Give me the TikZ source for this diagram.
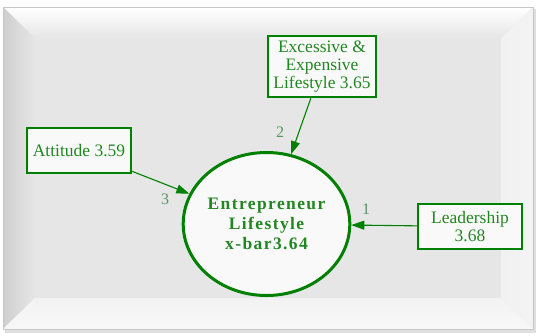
\documentclass[tikz,border=0pt]{standalone}
\usepackage{fontspec}
\setmainfont{Liberation Serif}
\usetikzlibrary{arrows.meta,shapes.geometric}
\definecolor{edgegreen}{RGB}{0,128,0}
\definecolor{textgreen}{RGB}{34,134,34}
\definecolor{labelgreen}{RGB}{84,150,100}
\definecolor{panel}{RGB}{230,230,230}
\definecolor{nodefill}{RGB}{249,249,249}
\begin{document}
\begin{tikzpicture}[x=1pt,y=-1pt,
  box/.style={draw=edgegreen, line width=2.5pt, fill=nodefill, text=textgreen,
    font=\fontsize{17.5}{18}\selectfont, align=center, inner sep=0pt},
  latent/.style={ellipse, draw=edgegreen, line width=3pt, fill=nodefill, text=textgreen,
    font=\fontsize{17.5}{20}\selectfont\bfseries\addfontfeatures{LetterSpace=8},
    align=center, inner sep=0pt, minimum width=166pt, minimum height=143pt},
  conn/.style={draw=edgegreen, line width=1.1pt, -{Triangle[length=13pt,width=9pt]}},
  pathlabel/.style={text=labelgreen, font=\fontsize{16}{16}\selectfont, inner sep=0pt}
]
% canvas
\useasboundingbox (0,0) rectangle (537,335);
\fill[white] (0,0) rectangle (537,335);

% bevelled frame
\fill[gray!25] (5,9) rectangle (536,333);
\fill[panel] (3,7) rectangle (533,329);
\shade[top color=white, bottom color=panel] (3,7) -- (533,7) -- (501,38) -- (35,38) -- cycle;
\shade[left color=gray!38, right color=panel] (3,7) -- (35,38) -- (35,298) -- (3,329) -- cycle;
\shade[left color=gray!11, right color=gray!9] (533,7) -- (533,329) -- (501,298) -- (501,38) -- cycle;
\shade[top color=gray!10, bottom color=gray!6] (3,329) -- (35,298) -- (501,298) -- (533,329) -- cycle;
\fill[panel] (35,38) rectangle (501,298);
\draw[gray!45, line width=1pt] (3,7) rectangle (533,329);

% nodes
\node[latent] (ent) at (266.5,224) {Entrepreneur\\Lifestyle\\x-bar3.64};
\node[box, minimum width=108pt, minimum height=61pt] (exc) at (322,66.5)
  {Excessive \&\\Expensive\\Lifestyle 3.65};
\node[box, minimum width=104pt, minimum height=45pt] (att) at (79,150.5) {Attitude 3.59};
\node[box, minimum width=104pt, minimum height=45pt] (lead) at (470,226.5) {Leadership\\3.68};

% paths
\draw[conn] (exc) -- (ent);
\draw[conn] (att) -- (ent);
\draw[conn] (lead) -- (ent);

% path labels
\node[pathlabel] (l2) at (280,132) {2};
\node[pathlabel] (l3) at (165,199) {3};
\node[pathlabel] (l1) at (366,209) {1};
\end{tikzpicture}
\end{document}
